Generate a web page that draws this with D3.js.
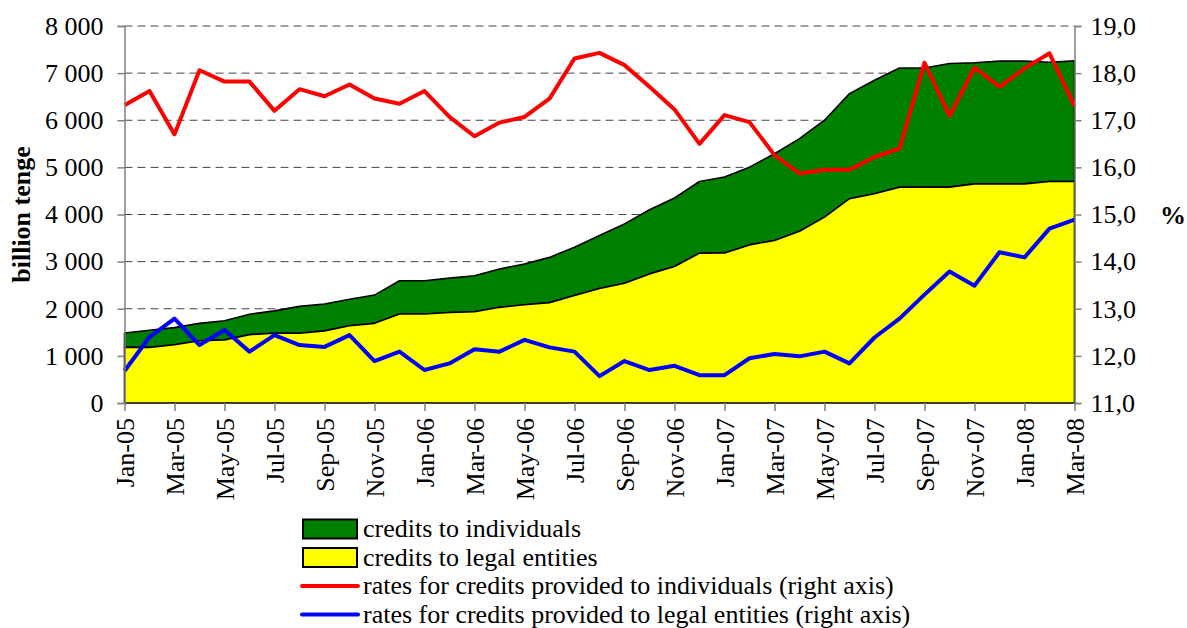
<!DOCTYPE html>
<html>
<head>
<meta charset="utf-8">
<script src="https://cdn.jsdelivr.net/npm/d3@7"></script>
<style>
  html, body { margin: 0; padding: 0; background: #fff; }
</style>
</head>
<body>
<svg id="chart" width="1187" height="628"></svg>
<script>
const months = ["Jan-05","Feb-05","Mar-05","Apr-05","May-05","Jun-05","Jul-05","Aug-05","Sep-05","Oct-05","Nov-05","Dec-05",
  "Jan-06","Feb-06","Mar-06","Apr-06","May-06","Jun-06","Jul-06","Aug-06","Sep-06","Oct-06","Nov-06","Dec-06",
  "Jan-07","Feb-07","Mar-07","Apr-07","May-07","Jun-07","Jul-07","Aug-07","Sep-07","Oct-07","Nov-07","Dec-07",
  "Jan-08","Feb-08","Mar-08"];

// billion tenge
const creditsLegal = [1180,1180,1235,1320,1340,1450,1480, 1480,1530,1640,1690,1890,1890,
  1920,1935,2030,2085,2130,2280, 2430,2540,2740,2895,3180,3185,3355,
  3450,3645,3945,4335,4440,4580, 4580,4580,4650,4650,4650,4700,4700];
const creditsIndividuals = [305,365,365,370,405,435,475, 570,570,560,600,705,705,
  730,765,815,865,960,1025, 1125,1260,1360,1455,1520,1610,1650,
  1840,1965,2055,2230,2410,2530, 2530,2625,2570,2605,2605,2530,2560];

// % (right axis)
const rateIndividuals = [17.32,17.62,16.70,18.06,17.82,17.82,17.20, 17.66,17.51,17.76,17.46,17.35,17.62,
  17.07,16.66,16.95,17.07,17.46,18.31, 18.43,18.17,17.71,17.23,16.50,17.11,16.96,
  16.26,15.87,15.95,15.95,16.22,16.40, 18.22,17.09,18.12,17.71,18.10,18.42,17.30];
const rateLegal = [11.68,12.40,12.79,12.23,12.55,12.09,12.44, 12.23,12.19,12.44,11.89,12.09,11.70,
  11.84,12.14,12.09,12.34,12.18,12.09, 11.57,11.89,11.70,11.79,11.59,11.59,11.95,
  12.04,11.99,12.09,11.84,12.39,12.79, 13.30,13.79,13.49,14.20,14.09,14.70,14.89];

const leftTicks = [0,1000,2000,3000,4000,5000,6000,7000,8000];
const rightTicks = [11,12,13,14,15,16,17,18,19];
const xTickLabels = months.filter((m, i) => i % 2 === 0);

const legendItems = [
  {label: "credits to individuals", type: "rect", color: "#008000"},
  {label: "credits to legal entities", type: "rect", color: "#ffff00"},
  {label: "rates for credits provided to individuals (right axis)", type: "line", color: "#ff0000"},
  {label: "rates for credits provided to legal entities (right axis)", type: "line", color: "#0000ff"}
];

const FONT = "'Liberation Serif', 'Times New Roman', serif";
const svg = d3.select("#chart");
const L = 124.5, R = 1074.5, T = 26, B = 403;

const x = d3.scalePoint().domain(months).range([L, R]);
const yL = d3.scaleLinear().domain([0, 8000]).range([B, T]);
const yR = d3.scaleLinear().domain([11, 19]).range([B, T]);

const data = months.map((m, i) => ({
  m, legal: creditsLegal[i], ind: creditsIndividuals[i],
  total: creditsLegal[i] + creditsIndividuals[i],
  rI: rateIndividuals[i], rL: rateLegal[i]
}));

// gridlines
svg.append("g").selectAll("line")
  .data(leftTicks.filter(d => d > 0))
  .join("line")
  .attr("x1", L).attr("x2", R)
  .attr("y1", d => yL(d)).attr("y2", d => yL(d))
  .attr("stroke", "#444").attr("stroke-width", 1)
  .attr("stroke-dasharray", "8,5");

// areas
const areaLegal = d3.area().x(d => x(d.m)).y0(yL(0)).y1(d => yL(d.legal));
const areaInd = d3.area().x(d => x(d.m)).y0(d => yL(d.legal)).y1(d => yL(d.total));

svg.append("path").datum(data).attr("d", areaInd)
  .attr("fill", "#008000").attr("stroke", "#000").attr("stroke-width", 1.6).attr("stroke-linejoin", "round");
svg.append("path").datum(data).attr("d", areaLegal)
  .attr("fill", "#ffff00").attr("stroke", "#000").attr("stroke-width", 1.6).attr("stroke-linejoin", "round");

// rate lines
const lineI = d3.line().x(d => x(d.m)).y(d => yR(d.rI));
const lineLg = d3.line().x(d => x(d.m)).y(d => yR(d.rL));
svg.append("path").datum(data).attr("d", lineI)
  .attr("fill", "none").attr("stroke", "#ff0000").attr("stroke-width", 4).attr("stroke-linejoin", "round");
svg.append("path").datum(data).attr("d", lineLg)
  .attr("fill", "none").attr("stroke", "#0000ff").attr("stroke-width", 4).attr("stroke-linejoin", "round");

// axes
const axisColor = "#808080";
// left axis
const gL = svg.append("g").attr("transform", `translate(${L},0)`)
  .call(d3.axisLeft(yL).tickValues(leftTicks).tickSize(7).tickPadding(14)
    .tickFormat(d => d3.format(",")(d).replace(/,/g, " ")));
gL.select(".domain").attr("stroke", axisColor).attr("stroke-width", 1.5);
gL.selectAll(".tick line").attr("stroke", axisColor).attr("stroke-width", 1.5);
gL.selectAll("text").attr("font-size", 26).style("font-family", FONT).attr("fill", "#000");

// right axis
const gR = svg.append("g").attr("transform", `translate(${R},0)`)
  .call(d3.axisRight(yR).tickValues(rightTicks).tickSize(7).tickPadding(9)
    .tickFormat(d => d3.format(".1f")(d).replace(".", ",")));
gR.select(".domain").attr("stroke", axisColor).attr("stroke-width", 1.5);
gR.selectAll(".tick line").attr("stroke", axisColor).attr("stroke-width", 1.5);
gR.selectAll("text").attr("font-size", 26).style("font-family", FONT).attr("fill", "#000");

// bottom axis
const gB = svg.append("g").attr("transform", `translate(0,${B})`)
  .call(d3.axisBottom(x).tickValues(xTickLabels).tickSize(8).tickSizeOuter(0));
gB.select(".domain").remove();
gB.selectAll(".tick line").attr("stroke", axisColor).attr("stroke-width", 1.5);
gB.selectAll("text")
  .attr("font-size", 26).style("font-family", FONT).attr("fill", "#000")
  .attr("text-anchor", "end")
  .attr("transform", "rotate(-90)")
  .attr("x", -15).attr("y", 0).attr("dy", "0.35em");

// axis titles
svg.append("text")
  .attr("transform", `translate(30,${(T + B) / 2}) rotate(-90)`)
  .attr("text-anchor", "middle")
  .attr("font-size", 26).attr("font-weight", "bold").style("font-family", FONT)
  .text("billion tenge");
svg.append("text")
  .attr("x", 1173).attr("y", (T + B) / 2 + 9)
  .attr("text-anchor", "middle")
  .attr("font-size", 26).attr("font-weight", "bold").style("font-family", FONT)
  .text("%");

// legend
const lg = svg.append("g").attr("transform", "translate(302,0)");
legendItems.forEach((it, i) => {
  const base = 537 + i * 28.5;
  const cy = base - 8;
  if (it.type === "rect") {
    lg.append("rect").attr("x", 1).attr("y", cy - 9.5).attr("width", 54).attr("height", 19)
      .attr("fill", it.color).attr("stroke", "#000").attr("stroke-width", 2);
  } else {
    lg.append("line").attr("x1", 0).attr("x2", 56).attr("y1", cy).attr("y2", cy)
      .attr("stroke", it.color).attr("stroke-width", 4).attr("stroke-linecap", "round");
  }
  lg.append("text").attr("x", 61).attr("y", base).attr("font-size", 26).style("font-family", FONT).text(it.label);
});
</script>
</body>
</html>
